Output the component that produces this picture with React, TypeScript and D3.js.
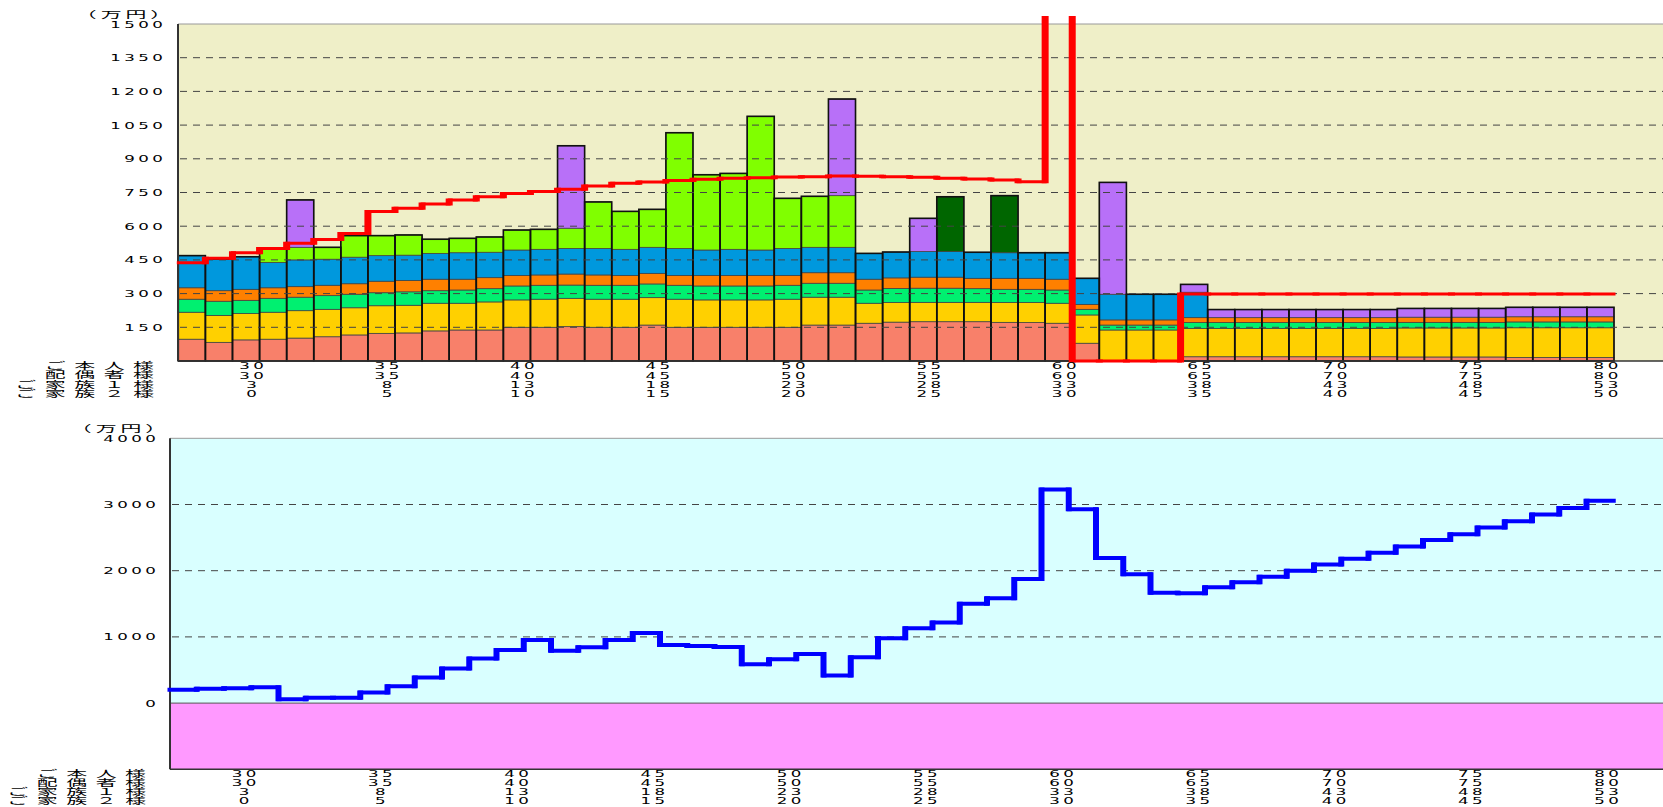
import { useEffect, useRef } from "react";
import * as d3 from "d3";

// ages of the main person, one bar / one step per year
const ages = [
  28, 29, 30, 31, 32, 33, 34, 35, 36, 37, 38, 39, 40, 41, 42, 43, 44, 45, 46,
  47, 48, 49, 50, 51, 52, 53, 54, 55, 56, 57, 58, 59, 60, 61, 62, 63, 64, 65,
  66, 67, 68, 69, 70, 71, 72, 73, 74, 75, 76, 77, 78, 79, 80,
];

// stacked expense components (万円)
const salmon = [
  97, 83, 94, 97, 102, 108, 116, 123, 125, 134, 138, 138, 150, 150, 153, 150,
  150, 160, 150, 150, 150, 150, 150, 160, 160, 168, 173, 175, 175, 175, 172,
  171, 168, 79, 0, 0, 0, 19, 19, 19, 19, 19, 19, 19, 19, 18, 18, 18, 18, 16,
  16, 16, 16,
];
const yellow = [
  120, 120, 117, 120, 122, 122, 121, 123, 123, 123, 119, 125, 122, 125, 126,
  125, 125, 122, 125, 122, 122, 122, 125, 124, 124, 89, 87, 86, 86, 86, 88, 89,
  89, 126, 138, 138, 138, 126, 126, 126, 126, 126, 126, 126, 126, 129, 129,
  129, 129, 132, 132, 132, 132,
];
const mint = [
  58, 63, 59, 62, 60, 61, 60, 58, 60, 56, 59, 59, 62, 62, 59, 62, 62, 61, 62,
  62, 62, 62, 62, 62, 62, 59, 63, 63, 63, 61, 59, 59, 59, 25, 22, 22, 22, 26,
  26, 26, 26, 26, 26, 26, 26, 25, 25, 25, 25, 26, 26, 26, 26,
];
const orange = [
  51, 47, 49, 47, 47, 46, 47, 51, 50, 51, 48, 49, 47, 46, 49, 46, 44, 47, 44,
  47, 47, 47, 44, 47, 47, 48, 47, 49, 49, 46, 49, 49, 48, 22, 23, 23, 23, 22,
  22, 22, 22, 22, 22, 22, 22, 23, 23, 23, 23, 23, 23, 23, 23,
];
const blue = [
  143, 141, 145, 113, 119, 116, 118, 114, 113, 115, 118, 113, 113, 114, 114,
  118, 116, 116, 120, 113, 116, 113, 120, 113, 113, 115, 115, 114, 114, 116,
  114, 114, 118, 116, 114, 114, 114, 113, 0, 0, 0, 0, 0, 0, 0, 0, 0, 0, 0, 0,
  0, 0, 0,
];
const lime = [
  0, 0, 0, 62, 56, 53, 96, 89, 90, 63, 64, 68, 89, 89, 90, 207, 169, 169, 515,
  335, 338, 595, 223, 227, 230, 0, 0, 0, 0, 0, 0, 0, 0, 0, 0, 0, 0, 0, 0, 0, 0,
  0, 0, 0, 0, 0, 0, 0, 0, 0, 0, 0, 0,
];
const darkGreen = [
  0, 0, 0, 0, 0, 0, 0, 0, 0, 0, 0, 0, 0, 0, 0, 0, 0, 0, 0, 0, 0, 0, 0, 0, 0, 0,
  0, 0, 244, 0, 254, 0, 0, 0, 0, 0, 0, 0, 0, 0, 0, 0, 0, 0, 0, 0, 0, 0, 0, 0,
  0, 0, 0,
];
const purple = [
  0, 0, 0, 0, 211, 0, 0, 0, 0, 0, 0, 0, 0, 0, 367, 0, 0, 0, 0, 0, 0, 0, 0, 0,
  430, 0, 0, 148, 0, 0, 0, 0, 0, 0, 498, 0, 0, 35, 36, 36, 36, 36, 36, 36, 36,
  39, 39, 39, 39, 42, 42, 42, 42,
];

// income line (red, stepped)
const income = [
  437, 457, 482, 501, 524, 541, 568, 665, 680, 699, 717, 731, 746, 754, 764,
  779, 791, 797, 803, 809, 813, 816, 819, 820, 823, 822, 820, 818, 813, 810,
  806, 798, 1600, 0, 0, 0, 0, 298, 298, 298, 298, 298, 298, 298, 298, 298, 298,
  298, 298, 298, 298, 298, 298,
];

// savings balance (blue, stepped)
const savings = [
  200, 215, 226, 241, 60, 80, 80, 160, 256, 387, 522, 673, 804, 955, 789, 844,
  955, 1060, 879, 864, 849, 588, 663, 743, 417, 693, 980, 1130, 1216, 1502,
  1583, 1874, 3226, 2929, 2190, 1945, 1668, 1658, 1749, 1824, 1909, 2000, 2095,
  2180, 2271, 2367, 2462, 2552, 2653, 2748, 2849, 2949, 3055,
];

// x axis label rows
const labelAges = [30, 35, 40, 45, 50, 55, 60, 65, 70, 75, 80];
const selfLabels = ["30", "35", "40", "45", "50", "55", "60", "65", "70", "75", "80"];
const spouseLabels = ["30", "35", "40", "45", "50", "55", "60", "65", "70", "75", "80"];
const child1Labels = ["3", "8", "13", "18", "23", "28", "33", "38", "43", "48", "53"];
const child2Labels = ["0", "5", "10", "15", "20", "25", "30", "35", "40", "45", "50"];
const rowNames = ["ご本人様", "配偶者様", "ご家族１様", "ご家族２様"];

const topTicks = [150, 300, 450, 600, 750, 900, 1050, 1200, 1350, 1500];
const bottomTicks = [0, 1000, 2000, 3000, 4000];

const keys = ["salmon", "yellow", "mint", "orange", "blue", "lime", "darkGreen", "purple"];
const colors: any = {
  salmon: "#F8806A",
  yellow: "#FFD000",
  mint: "#00F070",
  orange: "#FF8000",
  blue: "#0098DD",
  lime: "#80FF00",
  darkGreen: "#006600",
  purple: "#B870F8",
};

const W = 1663;
const H = 807;
const digitFont = "'DejaVu Sans', sans-serif";
const jpFont = "'Noto Sans CJK JP', sans-serif";

const App = () => {
  const svgRef = useRef(null);

  useEffect(() => {
    if (!svgRef.current) return;
    document.body.style.margin = "0";
    document.body.style.overflow = "hidden";

    const svg = d3.select(svgRef.current);
    svg.selectAll("*").remove();

    // stretched text, the original font is wide and short
    const txt = (
      x: number,
      y: number,
      str: string,
      anchor: string,
      sx: number,
      ls: number,
      font: string,
    ) => {
      svg
        .append("text")
        .attr("transform", `translate(${x},${y}) scale(${sx},1)`)
        .attr("text-anchor", anchor)
        .attr("font-family", font)
        .attr("font-size", 9.5)
        .attr("letter-spacing", ls)
        .attr("fill", "#000")
        .text(str);
    };

    // stepped line: thin horizontals, thick verticals
    const stepLine = (
      vals: number[],
      x: any,
      y: any,
      color: string,
      hw: number,
      vw: number,
      clip?: string,
    ) => {
      let h = "";
      let v = "";
      vals.forEach((val, i) => {
        const x0 = x(ages[i]);
        const x1 = x0 + x.bandwidth();
        h += `M${x0},${y(val)}H${x1}`;
        if (i < vals.length - 1) {
          const ya = y(val);
          const yb = y(vals[i + 1]);
          const dir = yb > ya ? 1 : -1;
          v += `M${x1},${ya - (dir * hw) / 2}V${yb + (dir * hw) / 2}`;
        }
      });
      const g = svg.append("g");
      if (clip) g.attr("clip-path", `url(#${clip})`);
      g.append("path")
        .attr("d", h)
        .attr("fill", "none")
        .attr("stroke", color)
        .attr("stroke-width", hw)
        .attr("stroke-linecap", "square");
      g.append("path")
        .attr("d", v)
        .attr("fill", "none")
        .attr("stroke", color)
        .attr("stroke-width", vw);
    };

    // ---------- top chart ----------
    const tLeft = 178;
    const xTop = d3.scaleBand<number>().domain(ages).range([178.3, 1614]).padding(0);
    const yTop = d3.scaleLinear().domain([0, 1500]).range([361, 24]);

    svg
      .append("rect")
      .attr("x", tLeft)
      .attr("y", yTop(1500))
      .attr("width", W - tLeft)
      .attr("height", yTop(0) - yTop(1500))
      .attr("fill", "#EFEFC8");

    const table = ages.map((a, i) => ({
      age: a,
      salmon: salmon[i],
      yellow: yellow[i],
      mint: mint[i],
      orange: orange[i],
      blue: blue[i],
      lime: lime[i],
      darkGreen: darkGreen[i],
      purple: purple[i],
    }));
    const stacked = d3.stack<any>().keys(keys)(table);
    const bw = xTop.bandwidth();

    stacked.forEach((layer: any) => {
      layer.forEach((d: any) => {
        if (d[1] - d[0] <= 0) return;
        svg
          .append("rect")
          .attr("x", xTop(d.data.age) as number)
          .attr("y", yTop(d[1]))
          .attr("width", bw)
          .attr("height", yTop(d[0]) - yTop(d[1]))
          .attr("fill", colors[layer.key])
          .attr("stroke", "#444")
          .attr("stroke-width", 0.8);
      });
    });

    // bar outlines
    const topLayer = stacked[stacked.length - 1];
    topLayer.forEach((d: any) => {
      svg
        .append("rect")
        .attr("x", xTop(d.data.age) as number)
        .attr("y", yTop(d[1]))
        .attr("width", bw)
        .attr("height", yTop(0) - yTop(d[1]))
        .attr("fill", "none")
        .attr("stroke", "#111")
        .attr("stroke-width", 1.6);
    });

    // grid on top of bars
    topTicks
      .filter((t) => t < 1500)
      .forEach((t) => {
        svg
          .append("line")
          .attr("x1", tLeft + 2)
          .attr("x2", W)
          .attr("y1", yTop(t))
          .attr("y2", yTop(t))
          .attr("stroke", "#444")
          .attr("stroke-dasharray", "7,6");
      });

    svg
      .append("line")
      .attr("x1", tLeft)
      .attr("x2", W)
      .attr("y1", yTop(1500))
      .attr("y2", yTop(1500))
      .attr("stroke", "#999");
    svg
      .append("line")
      .attr("x1", tLeft)
      .attr("x2", W)
      .attr("y1", yTop(0))
      .attr("y2", yTop(0))
      .attr("stroke", "#333")
      .attr("stroke-width", 1.5);
    svg
      .append("line")
      .attr("x1", tLeft)
      .attr("x2", tLeft)
      .attr("y1", yTop(1500))
      .attr("y2", yTop(0))
      .attr("stroke", "#333")
      .attr("stroke-width", 2);

    // red income line, cut a little above the plot
    svg
      .append("defs")
      .append("clipPath")
      .attr("id", "redClip")
      .append("rect")
      .attr("x", 0)
      .attr("y", 16)
      .attr("width", W)
      .attr("height", H);
    stepLine(income, xTop, yTop, "#FF0000", 3, 7, "redClip");

    topTicks.forEach((t) => {
      txt(166.4, yTop(t) + 3.5, String(t), "end", 1.75, 2, digitFont);
    });
    txt(125.5, 15 + 3.4, "（万円）", "middle", 2.2, 1.8, jpFont);

    const rowsTop = [365.8, 375, 384.3, 393.5];
    const rowLabels = [selfLabels, spouseLabels, child1Labels, child2Labels];
    rowNames.forEach((n, r) => {
      txt(162.6, rowsTop[r] + 3.4, n, "end", 2.2, 3.9, jpFont);
      labelAges.forEach((a, i) => {
        const cx = (xTop(a) as number) + bw / 2 + 7.2;
        txt(cx, rowsTop[r] + 3.5, rowLabels[r][i], "middle", 1.75, 2, digitFont);
      });
    });

    // ---------- bottom chart ----------
    const bLeft = 170;
    const xBot = d3.scaleBand<number>().domain(ages).range([169.5, 1613.75]).padding(0);
    const yBot = d3.scaleLinear().domain([-1000, 4000]).range([769.3, 438.3]);
    const bbw = xBot.bandwidth();

    svg
      .append("rect")
      .attr("x", bLeft)
      .attr("y", yBot(4000))
      .attr("width", W - bLeft)
      .attr("height", yBot(0) - yBot(4000))
      .attr("fill", "#D9FFFF");
    svg
      .append("rect")
      .attr("x", bLeft)
      .attr("y", yBot(0))
      .attr("width", W - bLeft)
      .attr("height", yBot(-1000) - yBot(0))
      .attr("fill", "#FF99FF");

    [1000, 2000, 3000].forEach((t) => {
      svg
        .append("line")
        .attr("x1", bLeft + 2)
        .attr("x2", W)
        .attr("y1", yBot(t))
        .attr("y2", yBot(t))
        .attr("stroke", "#444")
        .attr("stroke-dasharray", "7,6");
    });
    svg
      .append("line")
      .attr("x1", bLeft)
      .attr("x2", W)
      .attr("y1", yBot(0))
      .attr("y2", yBot(0))
      .attr("stroke", "#555");
    svg
      .append("line")
      .attr("x1", bLeft)
      .attr("x2", W)
      .attr("y1", yBot(4000))
      .attr("y2", yBot(4000))
      .attr("stroke", "#999");
    svg
      .append("line")
      .attr("x1", bLeft)
      .attr("x2", W)
      .attr("y1", yBot(-1000))
      .attr("y2", yBot(-1000))
      .attr("stroke", "#333")
      .attr("stroke-width", 1.5);
    svg
      .append("line")
      .attr("x1", bLeft)
      .attr("x2", bLeft)
      .attr("y1", yBot(4000))
      .attr("y2", yBot(-1000))
      .attr("stroke", "#333")
      .attr("stroke-width", 2);

    stepLine(savings, xBot, yBot, "#0000FF", 4, 6);

    bottomTicks.forEach((t) => {
      txt(159.4, yBot(t) + 3.5, String(t), "end", 1.75, 2, digitFont);
    });
    txt(120.5, 429 + 3.4, "（万円）", "middle", 2.2, 1.8, jpFont);

    const rowsBot = [773.5, 782.6, 791.8, 800.9];
    rowNames.forEach((n, r) => {
      txt(154.6, rowsBot[r] + 3.4, n, "end", 2.2, 3.9, jpFont);
      labelAges.forEach((a, i) => {
        const cx = (xBot(a) as number) + bbw / 2 + 8.2;
        txt(cx, rowsBot[r] + 3.5, rowLabels[r][i], "middle", 1.75, 2, digitFont);
      });
    });
  }, []);

  return <svg ref={svgRef} width={W} height={H} style={{ display: "block" }} />;
};

export default App;
